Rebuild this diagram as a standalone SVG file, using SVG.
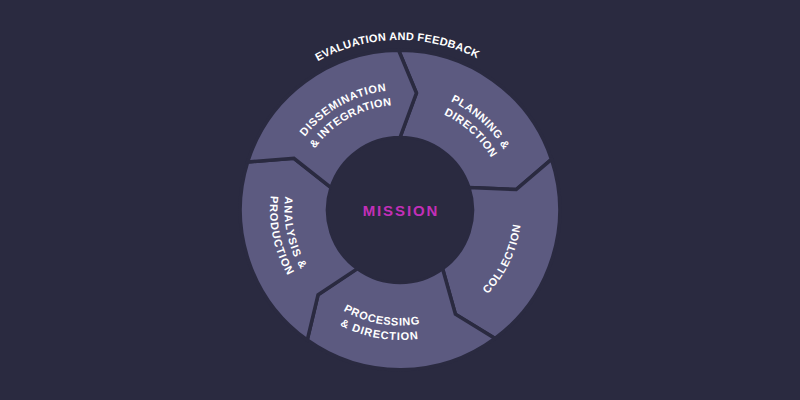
<svg xmlns="http://www.w3.org/2000/svg" xmlns:xlink="http://www.w3.org/1999/xlink" width="800" height="400" viewBox="0 0 800 400">
  <defs>
    <style>
      .bg{fill:#2a2a40}
      .seg{fill:#5c5a80;stroke:#2a2a40;stroke-width:3.5;stroke-linejoin:miter}
      .lbl{font-family:"Liberation Sans",Arial,sans-serif;font-weight:bold;font-size:11px;fill:#ffffff;text-anchor:middle}
      .mission{font-family:"Liberation Sans",Arial,sans-serif;font-weight:bold;font-size:15px;fill:#c22fb8;text-anchor:middle}
    </style>
    <!-- one ring segment in a local frame: leading divider at 0 deg, trailing divider at 72 deg -->
    <path id="seg" d="M72.5,0 L116.85,16.42 L159.74,-1.39 A159.75,159.75 0 0 1 50.68,151.49 L20.49,116.2 L22.4,68.95 A72.5,72.5 0 0 0 72.5,0 Z"/>
    <!-- clockwise arcs, midpoint at top -->
    <path id="t170" d="M-170,0 A170,170 0 0 1 170,0"/>
    <path id="t120" d="M-120,0 A120,120 0 0 1 120,0"/>
    <path id="t105" d="M-105,0 A105,105 0 0 1 105,0"/>
    <!-- counter-clockwise arcs, midpoint at bottom -->
    <path id="b121" d="M-121.5,0 A121.5,121.5 0 0 0 121.5,0"/>
    <path id="b115" d="M-115.5,0 A115.5,115.5 0 0 0 115.5,0"/>
    <path id="b130" d="M-130,0 A130,130 0 0 0 130,0"/>
  </defs>

  <rect class="bg" x="0" y="0" width="800" height="400"/>

  <g id="evaluation-and-feedback" transform="translate(400 210) rotate(-1)">
    <text class="lbl"><textPath href="#t170" xlink:href="#t170" startOffset="50%" textLength="166" lengthAdjust="spacing">EVALUATION AND FEEDBACK</textPath></text>
  </g>

  <g id="planning-direction" transform="translate(400 210) rotate(-90)">
    <use href="#seg" xlink:href="#seg" class="seg"/>
    <g transform="rotate(132.4)">
      <text class="lbl"><textPath href="#t120" xlink:href="#t120" startOffset="50%" textLength="73" lengthAdjust="spacing">PLANNING &amp;</textPath></text>
      <text class="lbl"><textPath href="#t105" xlink:href="#t105" startOffset="50%" textLength="65" lengthAdjust="spacing">DIRECTION</textPath></text>
    </g>
  </g>

  <g id="collection" transform="translate(400 210) rotate(-18)">
    <use href="#seg" xlink:href="#seg" class="seg"/>
    <g transform="rotate(-46.5)">
      <text class="lbl"><textPath href="#b121" xlink:href="#b121" startOffset="50%" textLength="78" lengthAdjust="spacing">COLLECTION</textPath></text>
    </g>
  </g>

  <g id="processing-direction" transform="translate(400 210) rotate(54)">
    <use href="#seg" xlink:href="#seg" class="seg"/>
    <g transform="rotate(-44.2)">
      <text class="lbl"><textPath href="#b115" xlink:href="#b115" startOffset="50%" textLength="79" lengthAdjust="spacing">PROCESSING</textPath></text>
      <text class="lbl"><textPath href="#b130" xlink:href="#b130" startOffset="50%" textLength="81" lengthAdjust="spacing">&amp; DIRECTION</textPath></text>
    </g>
  </g>

  <g id="analysis-production" transform="translate(400 210) rotate(126)">
    <use href="#seg" xlink:href="#seg" class="seg"/>
    <g transform="rotate(-48)">
      <text class="lbl"><textPath href="#b115" xlink:href="#b115" startOffset="50%" textLength="76" lengthAdjust="spacing">ANALYSIS &amp;</textPath></text>
      <text class="lbl"><textPath href="#b130" xlink:href="#b130" startOffset="50%" textLength="83" lengthAdjust="spacing">PRODUCTION</textPath></text>
    </g>
  </g>

  <g id="dissemination-integration" transform="translate(400 210) rotate(198)">
    <use href="#seg" xlink:href="#seg" class="seg"/>
    <g transform="rotate(132.5)">
      <text class="lbl"><textPath href="#t120" xlink:href="#t120" startOffset="50%" textLength="96" lengthAdjust="spacing">DISSEMINATION</textPath></text>
      <text class="lbl"><textPath href="#t105" xlink:href="#t105" startOffset="50%" textLength="91" lengthAdjust="spacing">&amp; INTEGRATION</textPath></text>
    </g>
  </g>

  <g id="mission">
    <circle class="bg" cx="400" cy="210" r="72"/>
    <text class="mission" x="400" y="215.7" textLength="74.6" lengthAdjust="spacing">MISSION</text>
  </g>

  <g id="connectors"/>
</svg>
